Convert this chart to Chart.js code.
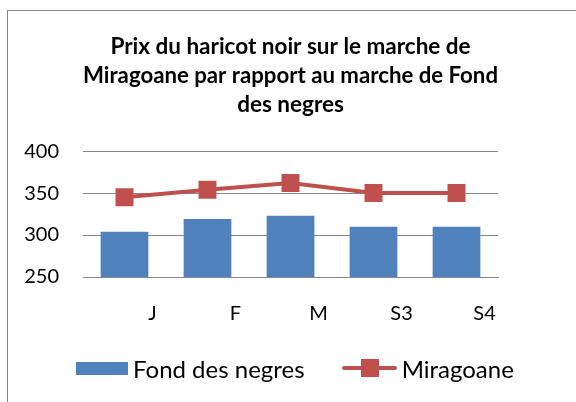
<!DOCTYPE html>
<html>
<head>
<meta charset="utf-8">
<script src="https://cdn.jsdelivr.net/npm/chart.js@4"></script>
<style>
  html, body { margin: 0; padding: 0; background: #fff; }
  #wrap { position: relative; width: 576px; height: 402px; overflow: hidden; }
  #cadre { position: absolute; left: 7px; top: 10px; width: 700px; height: 500px; border: 1px solid #868686; }
  canvas { position: absolute; left: 0; top: 0; }
  /* legende en HTML */
  #legende { position: absolute; left: 76px; top: 353px; height: 30px; display: flex; align-items: center;
             font-family: Lato, sans-serif; font-size: 24px; color: #000; white-space: nowrap; }
  .boite { width: 52px; height: 13px; background: #4F81BD; margin-right: 5px; }
  .ligne { position: relative; width: 55px; height: 18px; margin-left: 37px; margin-right: 5px; }
  .ligne::before { content: ''; position: absolute; left: 0; right: 0; top: 7px; height: 4px; border-radius: 2px; background: #C0504D; }
  .ligne::after { content: ''; position: absolute; left: 19px; top: 0; width: 18px; height: 18px; background: #C0504D; }
</style>
</head>
<body>
<div id="wrap">
  <div id="cadre"></div>
  <canvas id="prixChart" width="576" height="402"></canvas>
  <div id="legende"></div>
</div>
<script>
// donnees
const mois = ['J', 'F', 'M', 'S3', 'S4'];
const fondDesNegres = [304, 319, 323, 310, 310];
const miragoane = [345, 354, 362, 350, 350];
const titreLignes = ['Prix du haricot noir sur le marche de', 'Miragoane par rapport au marche de Fond', 'des negres'];

const bleu = '#4F81BD';
const rouge = '#C0504D';
const gris = '#868686';

const ctx = document.getElementById('prixChart').getContext('2d');
const chart = new Chart(ctx, {
  data: {
    labels: mois,
    datasets: [
      {
        type: 'line',
        label: 'Miragoane',
        data: miragoane,
        borderColor: rouge,
        backgroundColor: rouge,
        borderWidth: 4,
        pointStyle: 'rect',
        pointRadius: 12.7,
        pointHoverRadius: 12.7,
        pointBackgroundColor: rouge,
        pointBorderWidth: 0,
        tension: 0,
        order: 1
      },
      {
        type: 'bar',
        label: 'Fond des negres',
        data: fondDesNegres,
        backgroundColor: bleu,
        borderWidth: 0,
        categoryPercentage: 1,
        barPercentage: 0.575,
        order: 2
      }
    ]
  },
  options: {
    responsive: false,
    animation: false,
    layout: { padding: { left: 8, right: 78, top: 0, bottom: 75 } },
    plugins: {
      title: {
        display: true,
        fullSize: false, // centre sur la zone du graphique
        text: titreLignes,
        color: '#000',
        font: { family: 'Lato', size: 22.5, weight: 'bold', lineHeight: 1.29 },
        padding: { top: 32, bottom: 32 }
      },
      legend: { display: false },
      tooltip: { enabled: false }
    },
    scales: {
      x: {
        grid: { display: false },
        border: { color: gris, width: 1 },
        ticks: { color: '#000', font: { family: 'Lato', size: 20 }, padding: 17, labelOffset: 28 },
        afterFit(scale) { scale.height = 50; }
      },
      y: {
        min: 250,
        max: 400,
        ticks: { stepSize: 50, color: '#000', font: { family: 'Lato', size: 20 }, padding: 24 },
        grid: { color: gris, lineWidth: 1, drawTicks: false },
        border: { display: false },
        afterFit(scale) { scale.width = 75; }
      }
    }
  }
});

// legende construite a partir des jeux de donnees
const legende = document.getElementById('legende');
[chart.data.datasets[1], chart.data.datasets[0]].forEach(ds => {
  const marque = document.createElement('span');
  marque.className = ds.type === 'bar' ? 'boite' : 'ligne';
  const texte = document.createElement('span');
  texte.textContent = ds.label;
  legende.appendChild(marque);
  legende.appendChild(texte);
});
</script>
</body>
</html>
